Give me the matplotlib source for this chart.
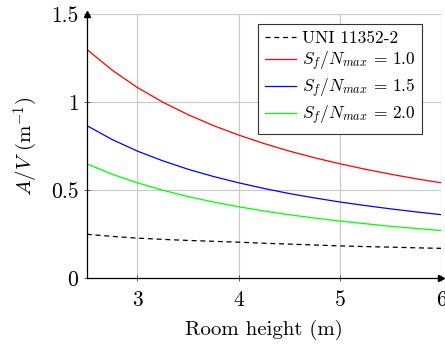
import matplotlib.pyplot as plt

plt.rcParams['font.family'] = 'serif'
plt.rcParams['font.serif'] = ['cmr10', 'DejaVu Serif']
plt.rcParams['mathtext.fontset'] = 'cm'
plt.rcParams['axes.formatter.use_mathtext'] = True

# room height (m)
h = [2.5, 2.75, 3.0, 3.25, 3.5, 3.75, 4.0, 4.25, 4.5, 4.75, 5.0, 5.25, 5.5, 5.75, 6.0]
# A/V values
uni = [0.250, 0.238, 0.228, 0.221, 0.215, 0.210, 0.205, 0.199, 0.194, 0.189,
       0.184, 0.180, 0.177, 0.173, 0.170]
sf10 = [1.300, 1.182, 1.083, 1.000, 0.929, 0.867, 0.813, 0.765, 0.722, 0.684,
        0.650, 0.619, 0.591, 0.565, 0.542]
sf15 = [0.867, 0.788, 0.722, 0.667, 0.619, 0.578, 0.542, 0.510, 0.481, 0.456,
        0.433, 0.413, 0.394, 0.377, 0.361]
sf20 = [0.650, 0.591, 0.542, 0.500, 0.464, 0.433, 0.406, 0.382, 0.361, 0.342,
        0.325, 0.310, 0.295, 0.283, 0.271]

xticks = [3, 4, 5, 6]
yticks = [0, 0.5, 1, 1.5]
yticklabels = ['0', '0.5', '1', '1.5']

fig = plt.figure(figsize=(4.45, 3.44), dpi=100)
ax = fig.add_axes([0.195, 0.191, 0.797, 0.768])

ax.plot(h, uni, color='black', linestyle=(0, (4, 3)), linewidth=0.9, label='UNI 11352-2')
ax.plot(h, sf10, color='red', linewidth=0.9, label=r'$S_f/N_{max}\,=\,1.0$')
ax.plot(h, sf15, color='blue', linewidth=0.9, label=r'$S_f/N_{max}\,=\,1.5$')
ax.plot(h, sf20, color='#00ff00', linewidth=0.9, label=r'$S_f/N_{max}\,=\,2.0$')

ax.set_xlim(2.5, 6)
ax.set_ylim(0, 1.5)
ax.set_xticks(xticks)
ax.set_yticks(yticks)
ax.set_yticklabels(yticklabels)
ax.tick_params(labelsize=15.5, direction='inout', length=5, width=0.6, color='#404040')
ax.tick_params(axis='x', pad=6)
ax.grid(True, color='#c8c8c8', linewidth=0.8)
ax.set_axisbelow(True)

for s in ['top', 'right']:
    ax.spines[s].set_visible(False)
for s in ['left', 'bottom']:
    ax.spines[s].set_linewidth(0.9)
ax.plot(1, 0, '>k', markersize=4, transform=ax.transAxes, clip_on=False)
ax.plot(0, 1, '^k', markersize=4, transform=ax.transAxes, clip_on=False)

ax.set_xlabel('Room height (m)', fontsize=15, labelpad=7)
ax.set_ylabel('$A/V$ (m$^{-1}$)', fontsize=15, labelpad=8)

leg = ax.legend(loc='upper right', bbox_to_anchor=(0.97, 0.995), fontsize=12.5,
                fancybox=False, edgecolor='#333333', framealpha=1,
                handlelength=1.8, handletextpad=0.3, borderpad=0.4, labelspacing=0.22)
leg.get_frame().set_linewidth(0.8)

fig.savefig('out.png', dpi=100)
